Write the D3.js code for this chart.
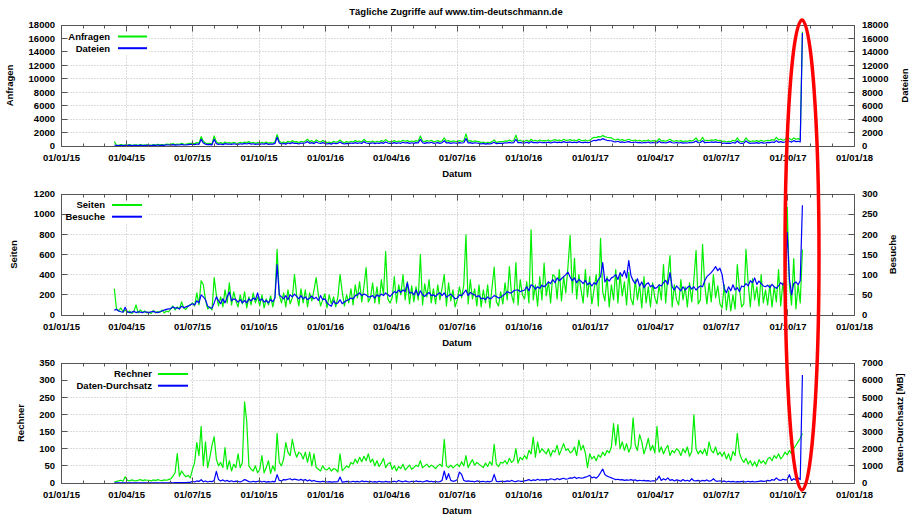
<!DOCTYPE html>
<html>
<head>
<meta charset="utf-8">
<script src="https://cdn.jsdelivr.net/npm/d3@7"></script>
<style>
  body { margin: 0; background: #fff; }
  svg text { font-family: "Liberation Sans", Arial, sans-serif; font-weight: bold; font-size: 9.5px; fill: #000; }
</style>
</head>
<body>
<svg id="chart" width="910" height="515"></svg>
<script>
// daily stats, sampled every 3 days starting 2015-03-15 (one row per month)
const startDate = '2015-03-15'
const stepDays = 3
const xDomain = ['2015-01-01', '2018-01-01']
const xTickFormat = '%d/%m/%y'

const anfragen = [
  650, 150, 100, 200, 120, 150,
  120, 200, 100, 150, 180, 100, 200, 120, 150, 180,
  150, 100, 200, 150, 250, 180, 200, 150, 300, 250,
  250, 350, 200, 300, 250, 400, 300, 250, 350, 400,
  400, 350, 500, 400, 1400, 700, 450, 350, 400, 300, 1500,
  600, 400, 500, 350, 600, 450, 500, 400, 550, 450,
  400, 550, 450, 600, 500, 650, 450, 550, 400, 500,
  400, 550, 450, 600, 400, 500, 450, 600, 1700, 700,
  500, 600, 450, 700, 550, 800, 600, 650, 500, 700,
  600, 750, 1000, 650, 800, 550, 900, 700, 600, 800, 650,
  500, 600, 450, 700, 550, 650, 900, 600, 500, 650,
  550, 700, 600, 800, 650, 750, 600, 1000, 700, 650,
  600, 750, 550, 700, 600, 800, 650, 950, 700, 600,
  650, 800, 600, 750, 650, 850, 700, 800, 650, 750,
  650, 800, 700, 1500, 750, 650, 800, 700, 850, 650,
  700, 800, 650, 750, 1200, 700, 800, 650, 750, 700,
  650, 800, 700, 750, 1800, 700, 800, 650, 750, 700, 650,
  500, 600, 450, 550, 500, 650, 900, 550, 600, 650,
  650, 750, 700, 900, 700, 800, 1600, 750, 850, 700,
  700, 850, 650, 1000, 750, 850, 700, 900, 750, 800,
  750, 900, 700, 850, 950, 800, 900, 750, 1000, 850,
  850, 950, 800, 900, 750, 1000, 850, 800, 900, 750, 850,
  1100, 1300, 1250, 1400, 1350, 1550, 1400, 1300, 1250, 1200,
  1000, 900, 1050, 850, 950, 800, 900, 1000, 850,
  800, 900, 750, 850, 700, 800, 750, 900, 700, 800, 750,
  700, 1100, 750, 800, 700, 850, 1000, 750, 700, 800,
  700, 800, 650, 750, 700, 800, 750, 900, 1200, 750,
  800, 1300, 750, 850, 800, 900, 850, 950, 800, 850,
  650, 750, 600, 700, 650, 850, 700, 1200, 750, 650,
  700, 1200, 800, 650, 750, 700, 800, 650, 850, 700, 750,
  850, 800, 950, 850, 1300, 900, 1050, 850, 950, 1400,
  1100, 900, 1200, 1000, 1100, 900, 17000
]
const dateien = [
  150, 80, 60, 100, 70, 90,
  70, 120, 60, 90, 100, 60, 120, 70, 90, 100,
  90, 60, 120, 90, 150, 100, 120, 90, 180, 150,
  150, 200, 120, 180, 150, 250, 180, 150, 200, 250,
  250, 200, 300, 250, 1000, 450, 280, 200, 250, 180, 1000,
  350, 250, 300, 200, 350, 280, 300, 250, 330, 280,
  250, 330, 280, 380, 300, 400, 280, 330, 250, 300,
  250, 330, 280, 380, 250, 300, 280, 380, 1300, 450,
  300, 380, 280, 450, 350, 500, 380, 400, 300, 450,
  380, 480, 650, 400, 500, 350, 600, 450, 380, 500, 400,
  300, 380, 280, 450, 350, 400, 600, 380, 300, 400,
  350, 450, 380, 500, 400, 480, 380, 650, 450, 400,
  380, 480, 350, 450, 380, 500, 400, 600, 450, 380,
  400, 500, 380, 480, 400, 550, 450, 500, 400, 480,
  400, 500, 450, 1000, 480, 400, 500, 450, 550, 400,
  450, 500, 400, 480, 800, 450, 500, 400, 480, 450,
  400, 500, 450, 480, 1100, 450, 500, 400, 480, 450, 400,
  300, 380, 280, 350, 300, 400, 550, 350, 380, 400,
  400, 480, 450, 550, 450, 500, 1000, 480, 550, 450,
  450, 550, 420, 650, 480, 550, 450, 600, 480, 520,
  480, 580, 450, 550, 600, 500, 580, 480, 650, 550,
  550, 600, 500, 580, 480, 650, 550, 500, 580, 480, 550,
  700, 850, 800, 950, 900, 1100, 950, 850, 800, 780,
  650, 600, 700, 550, 620, 520, 600, 650, 550,
  520, 600, 480, 550, 450, 520, 480, 600, 450, 520, 480,
  450, 700, 480, 520, 450, 550, 650, 480, 450, 520,
  450, 520, 420, 480, 450, 520, 480, 580, 750, 480,
  520, 800, 480, 550, 520, 600, 550, 620, 520, 550,
  400, 450, 380, 430, 400, 520, 430, 750, 450, 400,
  430, 750, 500, 400, 450, 430, 500, 400, 530, 430, 450,
  530, 500, 600, 530, 800, 550, 650, 530, 600, 850,
  700, 580, 800, 650, 700, 600, 16800
]
const seiten = [
  260, 60, 40, 70, 30, 50,
  25, 40, 15, 35, 100, 20, 50, 25, 40, 20,
  30, 15, 45, 20, 35, 25, 50, 20, 40, 30,
  60, 90, 50, 80, 60, 130, 70, 55, 90, 100,
  120, 90, 220, 100, 340, 300, 150, 60, 80, 50, 370,
  200, 90, 180, 80, 250, 120, 320, 100, 230, 140,
  80, 200, 110, 230, 70, 180, 100, 220, 120, 180,
  90, 200, 70, 160, 100, 190, 80, 180, 650, 200,
  120, 220, 80, 250, 110, 170, 400, 200, 90, 260,
  120, 250, 80, 220, 140, 250, 370, 200, 90, 150, 210,
  70, 200, 110, 180, 80, 180, 400, 230, 90, 200,
  120, 260, 100, 300, 170, 330, 130, 280, 470, 130,
  170, 320, 120, 280, 110, 350, 200, 630, 160, 120,
  170, 380, 120, 300, 200, 400, 150, 330, 110, 290,
  130, 280, 150, 600, 100, 310, 180, 350, 120, 260,
  110, 300, 150, 270, 400, 90, 320, 140, 250, 80,
  150, 280, 170, 300, 795, 110, 350, 160, 260, 90, 300,
  80, 250, 120, 300, 70, 270, 474, 130, 90, 230,
  110, 320, 150, 480, 200, 120, 520, 100, 350, 200,
  160, 330, 120, 845, 150, 300, 90, 380, 150, 514,
  190, 330, 120, 400, 380, 160, 450, 140, 380, 220,
  480, 789, 220, 563, 160, 400, 250, 120, 450, 180, 380,
  110, 250, 400, 90, 760, 230, 140, 380, 80, 300,
  150, 450, 120, 400, 190, 330, 100, 420, 160,
  100, 350, 150, 300, 70, 380, 120, 280, 80, 320, 170,
  110, 300, 150, 500, 120, 380, 590, 80, 300, 150,
  100, 350, 150, 280, 80, 320, 130, 350, 640, 110,
  150, 700, 300, 110, 320, 130, 400, 170, 290, 110,
  70, 300, 50, 240, 40, 200, 60, 500, 260, 80,
  110, 650, 320, 80, 360, 150, 280, 90, 400, 120, 250,
  100, 300, 80, 280, 130, 450, 90, 320, 150, 1070,
  300, 100, 560, 60, 300, 120, 650
]
const besuche = [
  12, 14, 10, 8, 7, 19,
  8, 6, 7, 9, 6, 8, 7, 6, 8, 7,
  6, 8, 9, 7, 6, 8, 10, 12, 14, 15,
  16, 20, 17, 18, 15, 22, 18, 20, 22, 25,
  28, 25, 35, 30, 50, 45, 38, 22, 18, 17, 30,
  45, 35, 28, 40, 30, 45, 57, 35, 40, 38,
  32, 38, 30, 36, 30, 40, 35, 42, 38, 55,
  35, 40, 32, 36, 30, 38, 33, 42, 125, 50,
  45, 40, 48, 38, 50, 45, 52, 46, 40, 48,
  40, 45, 38, 42, 47, 40, 44, 36, 48, 38, 40,
  30, 25, 22, 35, 28, 30, 38, 28, 32, 36,
  38, 42, 40, 48, 50, 55, 48, 52, 50, 45,
  45, 48, 42, 50, 46, 52, 48, 55, 50, 46,
  52, 58, 55, 62, 56, 62, 58, 80, 54, 56,
  50, 62, 48, 60, 50, 46, 52, 56, 48, 50,
  46, 52, 55, 48, 55, 44, 48, 52, 46, 40,
  42, 50, 48, 55, 62, 48, 56, 52, 50, 45, 48,
  40, 42, 38, 45, 40, 43, 48, 46, 42, 44,
  48, 52, 58, 55, 55, 60, 62, 62, 58, 60,
  62, 70, 60, 75, 72, 64, 70, 66, 74, 70,
  75, 82, 78, 88, 80, 92, 85, 90, 95, 100,
  106, 94, 85, 92, 80, 88, 84, 78, 86, 75, 80,
  72, 80, 76, 88, 95, 130, 82, 90, 84, 92,
  95, 100, 88, 105, 96, 110, 92, 135, 98,
  85, 78, 90, 72, 82, 68, 76, 80, 70, 74, 66,
  68, 75, 72, 80, 86, 76, 105, 70, 62, 72,
  66, 60, 70, 62, 68, 72, 64, 70, 62, 68,
  72, 70, 85, 95, 100, 105, 112, 120, 110, 116,
  100, 65, 55, 70, 60, 75, 62, 68, 58, 72,
  70, 78, 72, 85, 80, 92, 76, 84, 78, 72, 70,
  74, 68, 76, 70, 66, 72, 80, 75, 82, 205,
  90, 50, 78, 82, 75, 85, 272
]
const rechner = [
  3, 5, 6, 8, 5, 18,
  8, 6, 9, 7, 6, 8, 10, 7, 9, 8,
  8, 6, 9, 7, 10, 8, 7, 9, 8, 10,
  12, 20, 30, 86, 20, 35, 25, 18, 22, 15,
  40, 60, 118, 80, 165, 50, 120, 45, 75, 110, 135,
  70, 50, 60, 45, 103, 40, 65, 35, 55, 45,
  85, 45, 60, 237, 180, 50, 40, 35, 50, 30,
  40, 80, 30, 45, 65, 28, 50, 35, 145, 60,
  50, 70, 118, 90, 80, 127, 95, 75, 90, 85,
  70, 90, 60, 90, 50, 85, 45, 40, 35, 50, 40,
  38, 45, 35, 42, 40, 32, 85, 36, 42, 50,
  45, 60, 55, 70, 58, 75, 62, 78, 65, 85,
  60, 70, 50, 65, 48, 58, 72, 45, 55, 60,
  40, 50, 35, 48, 42, 55, 38, 45, 52, 40,
  45, 52, 48, 65, 44, 50, 55, 46, 52, 48,
  42, 50, 55, 48, 127, 50, 45, 52, 44, 50,
  55, 48, 62, 50, 80, 45, 58, 68, 52, 60, 55,
  50, 45, 58, 48, 62, 52, 113, 55, 48, 60,
  58, 65, 55, 72, 60, 66, 100, 58, 75, 68,
  80, 70, 95, 85, 134, 75, 120, 88, 100, 92,
  85, 100, 78, 95, 90, 110, 82, 98, 115, 95,
  100, 88, 92, 105, 80, 125, 96, 110, 88, 45, 85,
  70, 78, 65, 82, 75, 90, 80, 95, 88, 105,
  173, 110, 170, 100, 120, 95, 115, 90, 105,
  190, 110, 95, 141, 120, 85, 105, 130, 95, 110, 88,
  165, 90, 105, 85, 100, 110, 80, 95, 88, 100,
  95, 80, 100, 88, 105, 78, 92, 199, 100, 85,
  95, 85, 100, 80, 120, 95, 88, 105, 82, 90,
  78, 90, 70, 85, 65, 92, 80, 145, 88, 70,
  60, 72, 55, 65, 50, 62, 48, 68, 58, 65, 55,
  70, 75, 65, 80, 72, 85, 70, 78, 90, 82,
  95, 85, 100, 110, 120, 130, 145
]
const durchsatz = [
  10, 5, 8, 5, 6, 5,
  10, 8, 5, 6, 8, 5, 6, 7, 5, 6,
  6, 5, 8, 6, 7, 5, 8, 6, 10, 15,
  20, 15, 30, 25, 20, 30, 25, 20, 40, 35,
  100, 60, 120, 90, 194, 70, 120, 60, 100, 80, 150,
  680, 200, 120, 180, 100, 150, 80, 130, 70, 110,
  90, 60, 120, 200, 150, 80, 60, 100, 70, 90,
  120, 60, 100, 50, 80, 60, 90, 70, 486, 150,
  120, 200, 180, 220, 250, 180, 230, 200, 160, 210,
  150, 200, 120, 180, 100, 150, 90, 80, 70, 100, 80,
  60, 80, 50, 70, 60, 80, 350, 50, 70, 90,
  80, 60, 100, 70, 90, 60, 120, 80, 100, 70,
  90, 60, 80, 50, 100, 70, 60, 90, 70, 60,
  80, 100, 60, 150, 90, 70, 120, 80, 60, 100,
  70, 120, 80, 100, 60, 90, 140, 80, 100, 70,
  90, 60, 80, 150, 700, 200, 545, 150, 100, 120,
  200, 640, 500, 150, 100, 120, 90, 100, 70, 120, 90,
  80, 100, 60, 90, 70, 120, 500, 100, 80, 90,
  100, 80, 120, 90, 150, 100, 80, 130, 100, 90,
  120, 150, 200, 130, 180, 150, 220, 160, 200, 180,
  200, 180, 250, 220, 180, 260, 200, 240, 280, 220,
  250, 300, 280, 350, 260, 320, 280, 300, 340, 380, 450,
  300, 350, 280, 400, 600, 816, 500, 400, 350, 300,
  250, 200, 220, 180, 200, 150, 180, 160, 200,
  150, 180, 120, 160, 130, 150, 120, 140, 100, 130, 120,
  200, 400, 150, 250, 180, 300, 150, 200, 120, 180,
  150, 100, 200, 120, 160, 100, 250, 130, 120, 150,
  100, 150, 120, 180, 100, 140, 250, 120, 100, 130,
  80, 120, 60, 100, 70, 90, 60, 80, 70, 90,
  80, 60, 100, 70, 90, 60, 80, 100, 120, 90, 110,
  150, 120, 200, 160, 300, 180, 150, 220, 180, 200,
  486, 150, 250, 180, 300, 200, 6300
]

const green = '#00ee00'
const blue = '#0000ff'

const panels = [
  {
    top: 25, bottom: 146,
    left: { label: 'Anfragen', max: 18000, step: 2000, x: 10 },
    right: { label: 'Dateien', max: 18000, step: 2000, x: 905 },
    series: [
      { name: 'Anfragen', values: anfragen, color: green, axis: 'left' },
      { name: 'Dateien', values: dateien, color: blue, axis: 'right' }
    ],
    legend: { textX: 110, lineX: 118, lineW: 29, y: 36.5, boxW: 87, boxH: 28 }
  },
  {
    top: 194, bottom: 315,
    left: { label: 'Seiten', max: 1200, step: 200, x: 14 },
    right: { label: 'Besuche', max: 300, step: 50, x: 893 },
    series: [
      { name: 'Seiten', values: seiten, color: green, axis: 'left' },
      { name: 'Besuche', values: besuche, color: blue, axis: 'right' }
    ],
    legend: { textX: 105, lineX: 112, lineW: 30, y: 205, boxW: 84, boxH: 28 }
  },
  {
    top: 363, bottom: 483,
    left: { label: 'Rechner', max: 350, step: 50, x: 21 },
    right: { label: 'Daten-Durchsatz [MB]', max: 7000, step: 1000, x: 900 },
    series: [
      { name: 'Rechner', values: rechner, color: green, axis: 'left' },
      { name: 'Daten-Durchsatz', values: durchsatz, color: blue, axis: 'right' }
    ],
    legend: { textX: 152, lineX: 158, lineW: 30, y: 374, boxW: 128, boxH: 27 }
  }
]

const svg = d3.select('#chart')
const parse = d3.utcParse('%Y-%m-%d')
const t0 = parse(startDate)
const plotLeft = 61.5, plotRight = 854.5
const x = d3.scaleUtc().domain(xDomain.map(parse)).range([plotLeft, plotRight])
const crisp = v => Math.floor(v) + 0.5
const majors = d3.utcMonth.every(3).range(x.domain()[0], d3.utcDay.offset(x.domain()[1], 1))
const minors = d3.utcMonth.range(x.domain()[0], x.domain()[1]).filter(d => d.getUTCMonth() % 3 !== 0)
const fmt = d3.utcFormat(xTickFormat)

svg.append('rect').attr('width', 910).attr('height', 515).attr('fill', '#fff')

svg.append('text')
  .attr('x', 456).attr('y', 12).attr('dy', '0.35em')
  .attr('text-anchor', 'middle')
  .text('Tägliche Zugriffe auf www.tim-deutschmann.de')

function drawPanel(p) {
  const g = svg.append('g')
  const yL = d3.scaleLinear().domain([0, p.left.max]).range([p.bottom, p.top])
  const yR = d3.scaleLinear().domain([0, p.right.max]).range([p.bottom, p.top])
  const leftTicks = d3.range(0, p.left.max + 1, p.left.step)
  const rightTicks = d3.range(0, p.right.max + 1, p.right.step)
  const top = p.top + 0.5, bottom = p.bottom + 0.5

  // grid
  const grid = g.append('g').attr('stroke', '#b8b8b8').attr('stroke-dasharray', '1,2').attr('stroke-width', 1)
  grid.selectAll('.gx').data(majors.slice(1, -1)).join('line')
    .attr('x1', d => crisp(x(d))).attr('x2', d => crisp(x(d)))
    .attr('y1', top).attr('y2', bottom)
  grid.selectAll('.gy').data(leftTicks.slice(1, -1)).join('line')
    .attr('x1', plotLeft).attr('x2', plotRight)
    .attr('y1', d => crisp(yL(d))).attr('y2', d => crisp(yL(d)))

  // legend background hides the grid
  g.append('rect')
    .attr('x', plotLeft + 0.5).attr('y', top + 0.5)
    .attr('width', p.legend.boxW).attr('height', p.legend.boxH)
    .attr('fill', '#fff')

  // data
  p.series.forEach(s => {
    const y = s.axis === 'left' ? yL : yR
    const line = d3.line()
      .x((v, i) => x(d3.utcDay.offset(t0, i * stepDays)))
      .y(v => y(v))
    g.append('path')
      .datum(s.values)
      .attr('d', line)
      .attr('fill', 'none')
      .attr('stroke', s.color)
      .attr('stroke-width', 1.2)
      .attr('stroke-linejoin', 'round')
  })

  // border and ticks
  const axisColor = '#555'
  g.append('rect')
    .attr('x', plotLeft).attr('y', top)
    .attr('width', plotRight - plotLeft).attr('height', bottom - top)
    .attr('fill', 'none').attr('stroke', axisColor)

  const ticks = g.append('g').attr('stroke', axisColor)
  majors.slice(1, -1).forEach(d => {
    const xx = crisp(x(d))
    ticks.append('line').attr('x1', xx).attr('x2', xx).attr('y1', bottom).attr('y2', bottom - 6)
    ticks.append('line').attr('x1', xx).attr('x2', xx).attr('y1', top).attr('y2', top + 6)
  })
  minors.forEach(d => {
    const xx = crisp(x(d))
    ticks.append('line').attr('x1', xx).attr('x2', xx).attr('y1', bottom).attr('y2', bottom - 3)
    ticks.append('line').attr('x1', xx).attr('x2', xx).attr('y1', top).attr('y2', top + 3)
  })
  leftTicks.slice(1, -1).forEach(v => {
    const yy = crisp(yL(v))
    ticks.append('line').attr('x1', plotLeft).attr('x2', plotLeft + 6).attr('y1', yy).attr('y2', yy)
  })
  rightTicks.slice(1, -1).forEach(v => {
    const yy = crisp(yR(v))
    ticks.append('line').attr('x1', plotRight).attr('x2', plotRight - 6).attr('y1', yy).attr('y2', yy)
  })

  // tick labels
  g.selectAll('.xl').data(majors).join('text')
    .attr('x', d => x(d)).attr('y', p.bottom + 12).attr('dy', '0.35em')
    .attr('text-anchor', 'middle')
    .text(d => fmt(d))
  g.selectAll('.yl').data(leftTicks).join('text')
    .attr('x', 55).attr('y', d => yL(d)).attr('dy', '0.35em')
    .attr('text-anchor', 'end')
    .text(d => d)
  g.selectAll('.yr').data(rightTicks).join('text')
    .attr('x', 862).attr('y', d => yR(d)).attr('dy', '0.35em')
    .attr('text-anchor', 'start')
    .text(d => d)

  // axis titles
  const midY = (p.top + p.bottom) / 2
  g.append('text')
    .attr('transform', `translate(${p.left.x},${midY}) rotate(-90)`)
    .attr('dy', '0.35em').attr('text-anchor', 'middle')
    .text(p.left.label)
  g.append('text')
    .attr('transform', `translate(${p.right.x},${midY}) rotate(-90)`)
    .attr('dy', '0.35em').attr('text-anchor', 'middle')
    .text(p.right.label)
  g.append('text')
    .attr('x', 457).attr('y', p.bottom + 28).attr('dy', '0.35em')
    .attr('text-anchor', 'middle')
    .text('Datum')

  // legend
  p.series.forEach((s, i) => {
    const ly = p.legend.y + i * 11.7
    g.append('text')
      .attr('x', p.legend.textX).attr('y', ly).attr('dy', '0.35em')
      .attr('text-anchor', 'end')
      .text(s.name)
    g.append('line')
      .attr('x1', p.legend.lineX).attr('x2', p.legend.lineX + p.legend.lineW)
      .attr('y1', ly).attr('y2', ly)
      .attr('stroke', s.color).attr('stroke-width', 2)
  })
}

panels.forEach(drawPanel)

// hand-drawn highlight around the last days
svg.append('ellipse')
  .attr('cx', 802).attr('cy', 255)
  .attr('rx', 17).attr('ry', 235)
  .attr('fill', 'none')
  .attr('stroke', '#ff0000')
  .attr('stroke-width', 3.5)
</script>
</body>
</html>
